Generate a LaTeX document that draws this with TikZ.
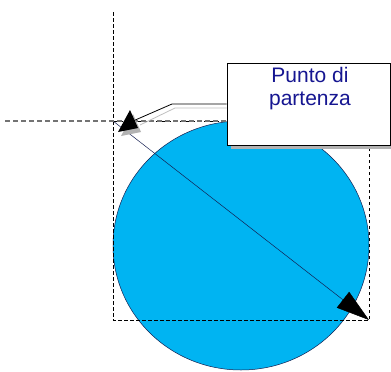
\documentclass[tikz,border=0pt]{standalone}
\usepackage{fontspec}
\setmainfont{Liberation Sans}
\usetikzlibrary{arrows.meta,shapes.geometric}
\definecolor{skyfill}{RGB}{0,180,242}
\definecolor{navytext}{RGB}{22,22,145}
\definecolor{edgenavy}{RGB}{20,30,80}
\tikzset{
  guide/.style={draw=black, line width=0.5pt, dash pattern=on 3.5pt off 2.5pt},
  greyguide/.style={draw=black!55, line width=1.1pt, dash pattern=on 5pt off 3pt},
  shadowc/.style={black!30},
}
\begin{document}
\begin{tikzpicture}[x=1pt,y=-1pt]
\useasboundingbox (0,0) rectangle (391,372);
% circle
\node[ellipse, draw=edgenavy, line width=0.5pt, fill=skyfill, minimum width=256pt, minimum height=249pt, inner sep=0pt] (disk) at (241,245.5) {};
\coordinate (start) at (113,121);
\coordinate (end) at (369,320);
\coordinate (vtop) at (113,12);
\coordinate (hleft) at (5,121);
% dashed bounding rectangle
\draw[guide] (start) rectangle (end);
\draw[guide] (vtop) -- (start);
% diagonal arrow
\draw[edgenavy, line width=0.5pt, -{Triangle[length=33pt,width=20pt,fill=black,color=black]}] (start) -- (end);
% callout box shadow and box
\fill[shadowc] (230.5,66.5) rectangle (391,149);
\node[draw=black, line width=0.6pt, fill=white, minimum width=163pt, minimum height=82pt, inner sep=0pt] (callout) at (308.5,104) {};
% grey dashed horizontal guide
\draw[greyguide] (hleft) -- (callout.west |- start);
% leader shadow
\draw[black!25, line width=0.8pt] (callout.west |- 0,108) -- (175,108) -- (140,125);
\fill[black!30] (133,114) -- (121,136) -- (141,132) -- cycle;
% leader
\coordinate (bend) at (172,104);
\draw[black, line width=0.8pt] (callout.west |- bend) -- (bend) -- (133,121);
\fill[black] (130,110) -- (118,132) -- (138,128) -- cycle;
% text
\node[anchor=north, inner sep=0pt, align=center, text=navytext, font=\fontsize{21}{23}\selectfont] (lbl) at (310,67) {Punto di\\partenza};
\end{tikzpicture}
\end{document}
